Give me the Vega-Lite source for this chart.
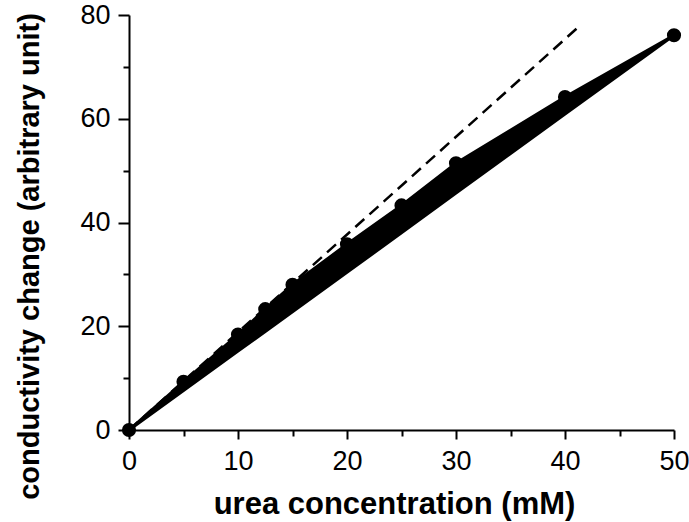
{
  "$schema": "https://vega.github.io/schema/vega-lite/v6.json",
  "width": 545,
  "height": 415,
  "autosize": "none",
  "padding": {"left": 129, "top": 15, "right": 15, "bottom": 92},
  "background": "white",
  "config": {"view": {"stroke": null}, "font": "Liberation Sans"},
  "datasets": {
    "measured": [
      {"urea": 0, "conductivity": 0, "lower": 0},
      {"urea": 5, "conductivity": 9.3, "lower": 7.6},
      {"urea": 10, "conductivity": 18.4, "lower": 15.2},
      {"urea": 12.5, "conductivity": 23.3, "lower": 19.0},
      {"urea": 15, "conductivity": 28.0, "lower": 22.8},
      {"urea": 20, "conductivity": 35.8, "lower": 30.4},
      {"urea": 25, "conductivity": 43.3, "lower": 38.0},
      {"urea": 30, "conductivity": 51.4, "lower": 45.7},
      {"urea": 40, "conductivity": 64.2, "lower": 60.9},
      {"urea": 50, "conductivity": 76.1, "lower": 76.1}
    ],
    "linear": [
      {"urea": 0, "conductivity": 0},
      {"urea": 41.4, "conductivity": 78}
    ]
  },
  "encoding": {
    "x": {
      "field": "urea", "type": "quantitative",
      "scale": {"domain": [0, 50], "nice": false, "zero": false},
      "axis": {
        "title": "urea concentration (mM)",
        "values": [0, 5, 10, 15, 20, 25, 30, 35, 40, 45, 50],
        "labelExpr": "datum.value % 10 === 0 ? datum.label : ''",
        "tickSize": {"condition": {"test": "datum.value % 10 === 0", "value": 9}, "value": 6},
        "grid": false,
        "domainColor": "black", "domainWidth": 2,
        "tickColor": "black", "tickWidth": 2,
        "labelFont": "Liberation Sans", "labelFontSize": 27, "labelColor": "black",
        "labelPadding": 9, "labelFlush": false, "labelOverlap": false,
        "titleFont": "Liberation Sans", "titleFontSize": 31, "titleFontWeight": "bold",
        "titleColor": "black", "titleBaseline": "alphabetic", "titleY": 83, "titleX": 265
      }
    },
    "y": {
      "field": "conductivity", "type": "quantitative",
      "scale": {"domain": [0, 80], "nice": false, "zero": false},
      "axis": {
        "title": "conductivity change (arbitrary unit)",
        "values": [0, 10, 20, 30, 40, 50, 60, 70, 80],
        "labelExpr": "datum.value % 20 === 0 ? datum.label : ''",
        "tickSize": {"condition": {"test": "datum.value % 20 === 0", "value": 11}, "value": 6},
        "grid": false,
        "domainColor": "black", "domainWidth": 2,
        "tickColor": "black", "tickWidth": 2,
        "labelFont": "Liberation Sans", "labelFontSize": 27, "labelColor": "black",
        "labelPadding": 8, "labelFlush": false, "labelOverlap": false,
        "titleFont": "Liberation Sans", "titleFontSize": 29, "titleFontWeight": "bold",
        "titleColor": "black", "titleBaseline": "alphabetic", "titleX": -91, "titleY": 241
      }
    }
  },
  "layer": [
    {
      "data": {"name": "linear"},
      "mark": {"type": "line", "color": "black", "strokeWidth": 2.5, "strokeDash": [12, 7]}
    },
    {
      "data": {"name": "measured"},
      "mark": {"type": "area", "color": "black", "opacity": 1},
      "encoding": {"y2": {"field": "lower"}}
    },
    {
      "data": {"name": "measured"},
      "mark": {"type": "line", "color": "black", "strokeWidth": 3},
      "encoding": {
        "y": {
          "field": "lower", "type": "quantitative",
          "scale": {"domain": [0, 80], "nice": false, "zero": false},
          "axis": {
            "title": "conductivity change (arbitrary unit)",
            "values": [0, 10, 20, 30, 40, 50, 60, 70, 80],
            "labelExpr": "datum.value % 20 === 0 ? datum.label : ''",
            "tickSize": {"condition": {"test": "datum.value % 20 === 0", "value": 11}, "value": 6},
            "grid": false,
            "domainColor": "black", "domainWidth": 2,
            "tickColor": "black", "tickWidth": 2,
            "labelFont": "Liberation Sans", "labelFontSize": 27, "labelColor": "black",
            "labelPadding": 8, "labelFlush": false, "labelOverlap": false,
            "titleFont": "Liberation Sans", "titleFontSize": 29, "titleFontWeight": "bold",
            "titleColor": "black", "titleBaseline": "alphabetic", "titleX": -91, "titleY": 241
          }
        }
      }
    },
    {
      "data": {"name": "measured"},
      "mark": {"type": "line", "color": "black", "strokeWidth": 3}
    },
    {
      "data": {"name": "measured"},
      "mark": {"type": "point", "shape": "circle", "filled": true, "size": 200, "color": "black", "opacity": 1}
    }
  ]
}
